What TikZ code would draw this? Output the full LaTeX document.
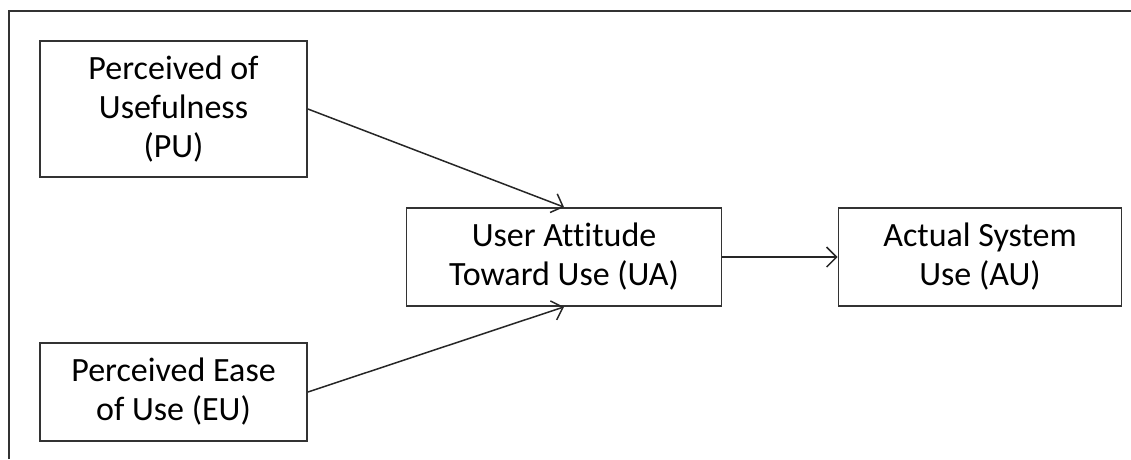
\documentclass[tikz,border=0pt]{standalone}
\usepackage{fontspec}
\setmainfont{Carlito}[Ligatures=CommonOff]
\usetikzlibrary{arrows.meta}
\begin{document}
\begin{tikzpicture}[x=1pt,y=-1pt,
  box/.style={draw=black!80, line width=1.8pt, align=center,
    font=\fontsize{34}{39}\selectfont, inner sep=0pt},
  conn/.style={draw=black!85, line width=1.5pt,
    -{Straight Barb[length=10pt,width=20pt,line width=1.5pt]}}]
\useasboundingbox (0,0) rectangle (1131,459);
\draw[line width=2pt, black!80] (9,459) -- (9,11) -- (1131,11);
\node[box, minimum width=267pt, minimum height=136pt] (pu) at (173.5,109) {Perceived of\\Usefulness\\(PU)};
\node[box, minimum width=267pt, minimum height=98pt] (eu) at (173.5,392) {Perceived Ease\\of Use (EU)};
\node[box, minimum width=315pt, minimum height=98pt] (ua) at (564,257) {User Attitude\\Toward Use (UA)};
\node[box, minimum width=283pt, minimum height=98pt] (au) at (980,257) {Actual System\\Use (AU)};
\draw[conn] (pu.east) -- (ua.north);
\draw[conn] (eu.east) -- (ua.south);
\draw[conn] (ua.east) -- (au.west);
\end{tikzpicture}
\end{document}
